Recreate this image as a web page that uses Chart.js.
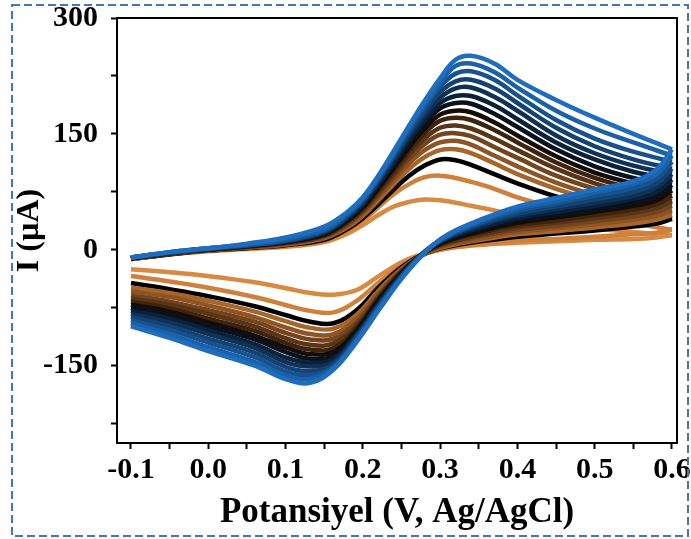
<!DOCTYPE html>
<html><head><meta charset="utf-8">
<script src="https://cdn.jsdelivr.net/npm/chart.js@4/dist/chart.umd.min.js"></script>
<style>html,body{margin:0;padding:0;background:#fff;}canvas{display:block;}</style>
</head><body>
<canvas id="c" width="691" height="539"></canvas>
<script>
// Potential grids (V vs Ag/AgCl)
const potentialForward = [-0.1, -0.05, 0, 0.05, 0.1, 0.15, 0.18, 0.2, 0.22, 0.24, 0.26, 0.28, 0.3, 0.32, 0.34, 0.37, 0.4, 0.45, 0.5, 0.55, 0.6];
const potentialReverse = [0.6, 0.58, 0.55, 0.5, 0.45, 0.4, 0.36, 0.31, 0.282, 0.252, 0.222, 0.192, 0.162, 0.132, 0.102, 0.06, 0, -0.05, -0.1];

// Anodic (forward) currents, µA
const fwd1  = [-12, -6, -2, 1, 4, 10, 21, 32, 45, 56, 62, 65, 64, 61, 57, 51, 44, 35, 28, 23, 19];
const fwd2  = [-12, -6, -1, 2, 5, 12, 25, 38, 55, 72, 85, 94, 96, 93, 88, 79, 68, 54, 43, 34, 26];
const fwd3  = [-12, -6, -1, 2, 6, 13, 27, 41, 59, 78, 96, 109, 117, 116, 110, 98, 86, 69, 56, 47, 40];
const fwd4  = [-12, -5, -1, 3, 7, 15, 29, 44, 64, 85, 105, 120, 129, 130, 125, 112, 98, 79, 64, 53, 45];
const fwd5  = [-12, -5, 0, 3, 7, 16, 31, 47, 68, 90, 112, 129, 139, 141, 136, 122, 108, 87, 71, 59, 51];
const fwd6  = [-11, -5, 0, 4, 8, 17, 33, 49, 71, 94, 118, 137, 149, 151, 147, 133, 119, 96, 79, 66, 57];
const fwd7  = [-11, -5, 0, 4, 9, 18, 35, 51, 74, 98, 123, 144, 158, 161, 157, 144, 129, 105, 86, 72, 63];
const fwd8  = [-11, -5, 0, 4, 9, 19, 36, 53, 77, 102, 128, 151, 167, 171, 168, 155, 139, 113, 93, 79, 70];
const fwd9  = [-11, -4, 0, 5, 10, 20, 38, 55, 80, 106, 133, 157, 175, 180, 178, 165, 148, 121, 100, 86, 77];
const fwd10 = [-11, -4, 1, 5, 10, 21, 39, 57, 83, 110, 138, 163, 183, 190, 189, 176, 159, 130, 108, 93, 84];
const fwd11 = [-11, -4, 1, 5, 11, 22, 41, 59, 85, 113, 142, 168, 190, 199, 199, 187, 169, 139, 117, 101, 91];
const fwd12 = [-10, -4, 1, 6, 11, 23, 42, 61, 88, 117, 147, 174, 197, 209, 210, 198, 180, 148, 125, 109, 98];
const fwd13 = [-10, -4, 1, 6, 12, 24, 44, 63, 90, 120, 151, 179, 204, 218, 220, 209, 190, 158, 134, 117, 105];
const fwd14 = [-10, -3, 2, 6, 12, 25, 45, 65, 92, 123, 155, 184, 211, 228, 231, 220, 200, 168, 144, 127, 114];
const fwd15 = [-10, -3, 2, 7, 14, 27, 47, 66, 94, 125, 158, 188, 216, 238, 241, 230, 210, 180, 157, 139, 122];
const fwd16 = [-10, -3, 2, 8, 16, 30, 49, 68, 96, 128, 161, 193, 222, 246, 251, 241, 220, 194, 171, 150, 130];

// Cathodic (reverse) currents, µA
const rev1  = [19, 16, 14, 13, 11, 9, 7, 2, -4, -15, -33, -52, -58, -56, -50, -42, -34, -29, -25];
const rev2  = [26, 22, 20, 17, 14, 12, 8, 2, -5, -19, -41, -66, -81, -79, -72, -61, -49, -41, -34];
const rev3  = [40, 34, 30, 25, 21, 17, 12, 4, -4, -21, -47, -78, -95, -93, -85, -73, -60, -51, -43];
const rev4  = [45, 39, 34, 29, 24, 20, 14, 5, -4, -23, -51, -84, -102, -101, -93, -80, -66, -56, -49];
const rev5  = [51, 44, 39, 33, 28, 23, 16, 6, -3, -24, -54, -89, -109, -109, -101, -87, -72, -61, -54];
const rev6  = [57, 49, 43, 37, 31, 26, 19, 8, -3, -25, -57, -94, -115, -116, -108, -93, -78, -67, -59];
const rev7  = [63, 54, 48, 41, 35, 29, 21, 9, -3, -26, -59, -98, -121, -123, -115, -99, -83, -71, -63];
const rev8  = [70, 59, 52, 45, 38, 32, 24, 11, -2, -27, -61, -101, -127, -129, -121, -105, -89, -76, -67];
const rev9  = [77, 64, 57, 49, 42, 35, 26, 12, -2, -28, -63, -104, -132, -135, -127, -111, -94, -80, -71];
const rev10 = [84, 70, 61, 53, 45, 38, 29, 14, -2, -29, -65, -107, -137, -141, -133, -116, -99, -85, -75];
const rev11 = [91, 75, 66, 57, 49, 41, 31, 15, -1, -30, -67, -109, -141, -146, -140, -122, -104, -89, -79];
const rev12 = [98, 81, 70, 61, 53, 44, 34, 16, -1, -31, -69, -111, -145, -151, -146, -127, -109, -94, -83];
const rev13 = [105, 86, 75, 65, 56, 47, 36, 17, -1, -32, -71, -113, -148, -157, -152, -133, -115, -99, -87];
const rev14 = [114, 92, 80, 70, 60, 50, 38, 18, -1, -33, -72, -115, -151, -162, -158, -139, -120, -104, -91];
const rev15 = [122, 98, 85, 74, 63, 53, 40, 19, -1, -34, -74, -117, -153, -167, -163, -145, -126, -109, -95];
const rev16 = [130, 104, 89, 78, 67, 56, 42, 20, -2, -35, -76, -119, -155, -172, -168, -150, -131, -114, -99];

const scanColors = ['#D98A42', '#CF803B', '#000000', '#A8652A', '#8E5423', '#74441C', '#5A3515', '#3E240E',
                    '#150C05', '#08111E', '#0B2139', '#0F3156', '#134274', '#17528F', '#1B61A8', '#1F6DBE'];

// Axis ticks
const xMajorTicks = [-0.1, 0, 0.1, 0.2, 0.3, 0.4, 0.5, 0.6];
const xMajorLabels = ['-0.1', '0.0', '0.1', '0.2', '0.3', '0.4', '0.5', '0.6'];
const xMinorTicks = [-0.05, 0.05, 0.15, 0.25, 0.35, 0.45, 0.55];
const yMajorTicks = [-150, 0, 150, 300];
const yMajorLabels = ['-150', '0', '150', '300'];
const yMinorTicks = [-225, -75, 75, 225];

const forwards = [fwd1, fwd2, fwd3, fwd4, fwd5, fwd6, fwd7, fwd8, fwd9, fwd10, fwd11, fwd12, fwd13, fwd14, fwd15, fwd16];
const reverses = [rev1, rev2, rev3, rev4, rev5, rev6, rev7, rev8, rev9, rev10, rev11, rev12, rev13, rev14, rev15, rev16];

const datasets = [];
for (let k = forwards.length - 1; k >= 0; k--) {
  const common = {showLine: true, pointRadius: 0, borderColor: scanColors[k], borderWidth: 4.5,
    tension: 0.4, borderJoinStyle: 'round', fill: false};
  datasets.push(Object.assign({data: potentialForward.map((v, i) => ({x: v, y: forwards[k][i]}))}, common));
  datasets.push(Object.assign({data: potentialReverse.map((v, i) => ({x: v, y: reverses[k][i]}))}, common));
}

const serif = '"Liberation Serif", "Times New Roman", serif';

const framePlugin = {
  id: 'frame',
  beforeDraw(chart) {
    const c = chart.ctx; c.save(); c.fillStyle = '#fff'; c.fillRect(0, 0, chart.width, chart.height); c.restore();
  },
  afterDraw(chart) {
    const c = chart.ctx, a = chart.chartArea;
    c.save();
    c.strokeStyle = '#000'; c.lineWidth = 2;
    c.strokeRect(a.left, a.top, a.right - a.left, a.bottom - a.top);
    c.setLineDash([8, 4]); c.strokeStyle = '#4472C4'; c.lineWidth = 2;
    c.strokeRect(12, 5, 676, 531);
    c.restore();
  }
};

new Chart(document.getElementById('c'), {
  type: 'scatter',
  data: {datasets},
  plugins: [framePlugin],
  options: {
    responsive: false, animation: false, devicePixelRatio: 1,
    layout: {padding: {top: 18, right: 14, left: 0, bottom: 0}},
    plugins: {legend: {display: false}, tooltip: {enabled: false}},
    scales: {
      x: {
        type: 'linear', min: -0.1181, max: 0.6065,
        border: {display: false},
        grid: {drawOnChartArea: false, drawTicks: true, tickLength: 6, tickColor: '#000', tickWidth: 2},
        afterBuildTicks: s => { s.ticks = xMajorTicks.concat(xMinorTicks).sort((a, b) => a - b).map(v => ({value: v})); },
        ticks: {
          color: '#000', padding: 3, maxRotation: 0, autoSkip: false,
          font: {family: serif, size: 30, weight: 'bold'},
          callback: v => { const i = xMajorTicks.findIndex(t => Math.abs(t - v) < 1e-6); return i >= 0 ? xMajorLabels[i] : ''; }
        },
        title: {display: true, text: 'Potansiyel (V, Ag/AgCl)', color: '#000',
          font: {family: serif, size: 35, weight: 'bold', lineHeight: 1}, padding: {top: 0, bottom: 9}},
        afterFit: s => { s.height = 96; s.paddingLeft = 0; s.paddingRight = 0; }
      },
      y: {
        type: 'linear', min: -250, max: 300,
        border: {display: false},
        grid: {drawOnChartArea: false, drawTicks: true, tickLength: 6, tickColor: '#000', tickWidth: 2},
        afterBuildTicks: s => { s.ticks = yMajorTicks.concat(yMinorTicks).sort((a, b) => a - b).map(v => ({value: v})); },
        ticks: {
          color: '#000', padding: 13, autoSkip: false,
          font: {family: serif, size: 30, weight: 'bold'},
          callback: v => { const i = yMajorTicks.indexOf(v); return i >= 0 ? yMajorLabels[i] : ''; }
        },
        title: {display: true, text: 'I (µA)', color: '#000',
          font: {family: serif, size: 32, weight: 'bold', lineHeight: 1}, padding: {top: 14, bottom: 0}},
        afterFit: s => { s.width = 117; s.paddingTop = 0; s.paddingBottom = 0; }
      }
    }
  }
});
</script>
</body></html>
